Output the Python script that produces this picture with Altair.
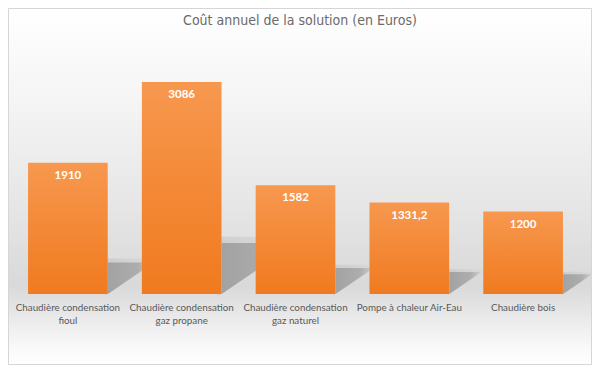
import altair as alt
import pandas as pd

categories = [
    "Chaudière condensation\nfioul",
    "Chaudière condensation\ngaz propane",
    "Chaudière condensation\ngaz naturel",
    "Pompe à chaleur Air-Eau",
    "Chaudière bois",
]
values = [1910, 3086, 1582, 1331.2, 1200]
value_labels = ["1910", "3086", "1582", "1331,2", "1200"]
title_text = "Coût annuel de la solution (en Euros)"

W, H = 569, 254
YMAX = 3697
PAD = {"left": 3, "top": 32, "right": 12, "bottom": 71}

df = pd.DataFrame({"cat": categories, "value": values, "label": value_labels})

xscale = alt.Scale(domain=categories, paddingInner=0.3, paddingOuter=0.15)
yscale = alt.Scale(domain=[0, YMAX], nice=False, zero=True)
X = alt.X("cat:N", scale=xscale, axis=None, sort=categories)

bg = alt.Chart(pd.DataFrame({"a": [0]})).mark_rect(
    stroke="#d6d6d6",
    strokeWidth=1,
    color=alt.LinearGradient(
        gradient="linear", x1=0, x2=0, y1=0, y2=1,
        stops=[
            alt.GradientStop(offset=0.0, color="#ffffff"),
            alt.GradientStop(offset=0.25, color="#f5f5f5"),
            alt.GradientStop(offset=0.55, color="#e6e6e6"),
            alt.GradientStop(offset=0.78, color="#d9d9d9"),
            alt.GradientStop(offset=0.86, color="#e8e8e8"),
            alt.GradientStop(offset=0.95, color="#f9f9f9"),
            alt.GradientStop(offset=1.0, color="#ffffff"),
        ],
    ),
).encode(
    x=alt.value(-PAD["left"] + 0.5),
    x2=alt.value(W + PAD["right"] - 0.5),
    y=alt.value(-PAD["top"] + 0.5),
    y2=alt.value(H + PAD["bottom"] - 0.5),
)

title = alt.Chart(pd.DataFrame({"t": [title_text]})).mark_text(
    font="'DejaVu Sans Condensed', 'Roboto Condensed', Lato", fontSize=14, color="#6a6a6a",
    baseline="middle", align="center"
).encode(
    x=alt.value(289),
    y=alt.value(-19),
    text="t:N",
)

base = alt.Chart(df)

shadow_path = "M0,0 L0,-0.24 L0.35,-0.24 Z"
shadow_halo = "M-0.02,0.01 L-0.02,-0.27 L0.41,-0.27 Z"
size_expr = f"4*pow(datum.value*{H}/{YMAX},2)"

shadow1 = base.transform_calculate(sz=size_expr, zero="0").mark_point(
    shape=shadow_halo, filled=True, xOffset=40, opacity=0.4, strokeWidth=0,
    color=alt.LinearGradient(
        gradient="linear", x1=0, x2=1, y1=0.5, y2=0.5,
        stops=[alt.GradientStop(offset=0, color="#b5b5b5"), alt.GradientStop(offset=1, color="#d8d8d8")],
    ),
).encode(x=X, y=alt.Y("zero:Q", scale=yscale, axis=None), size=alt.Size("sz:Q", scale=None, legend=None))

shadow2 = base.transform_calculate(sz=size_expr, zero="0").mark_point(
    shape=shadow_path, filled=True, xOffset=40, opacity=1, strokeWidth=0,
    color=alt.LinearGradient(
        gradient="linear", x1=0, x2=1, y1=0.5, y2=0.5,
        stops=[alt.GradientStop(offset=0, color="#a2a2a2"), alt.GradientStop(offset=0.65, color="#adadad"), alt.GradientStop(offset=1, color="#d0d0d0")],
    ),
).encode(x=X, y=alt.Y("zero:Q", scale=yscale, axis=None), size=alt.Size("sz:Q", scale=None, legend=None))

bars = base.mark_bar(
    color=alt.LinearGradient(
        gradient="linear", x1=0, x2=0, y1=0, y2=1,
        stops=[alt.GradientStop(offset=0, color="#f7984f"), alt.GradientStop(offset=1, color="#f07a1f")],
    ),
).encode(x=X, y=alt.Y("value:Q", scale=yscale, axis=None))

vlabels = base.mark_text(
    font="Lato", fontSize=11.5, fontWeight="bold", color="#ffffff", baseline="middle", dy=13
).encode(x=X, y=alt.Y("value:Q", scale=yscale, axis=None), text="label:N")

xlabels = base.transform_calculate(zero="0").mark_text(
    font="Lato", fontSize=9.8, color="#595959", baseline="middle", lineBreak="\n", lineHeight=13, dy=14
).encode(x=X, y=alt.Y("zero:Q", scale=yscale, axis=None), text="cat:N")

chart = alt.layer(bg, title, shadow1, shadow2, bars, vlabels, xlabels).properties(
    width=W, height=H,
    autosize=alt.AutoSizeParams(type="none"),
    padding=PAD,
).configure_view(stroke=None).configure(background="#ffffff")

chart.save("out.html", embed_options={"renderer": "svg", "actions": False})
